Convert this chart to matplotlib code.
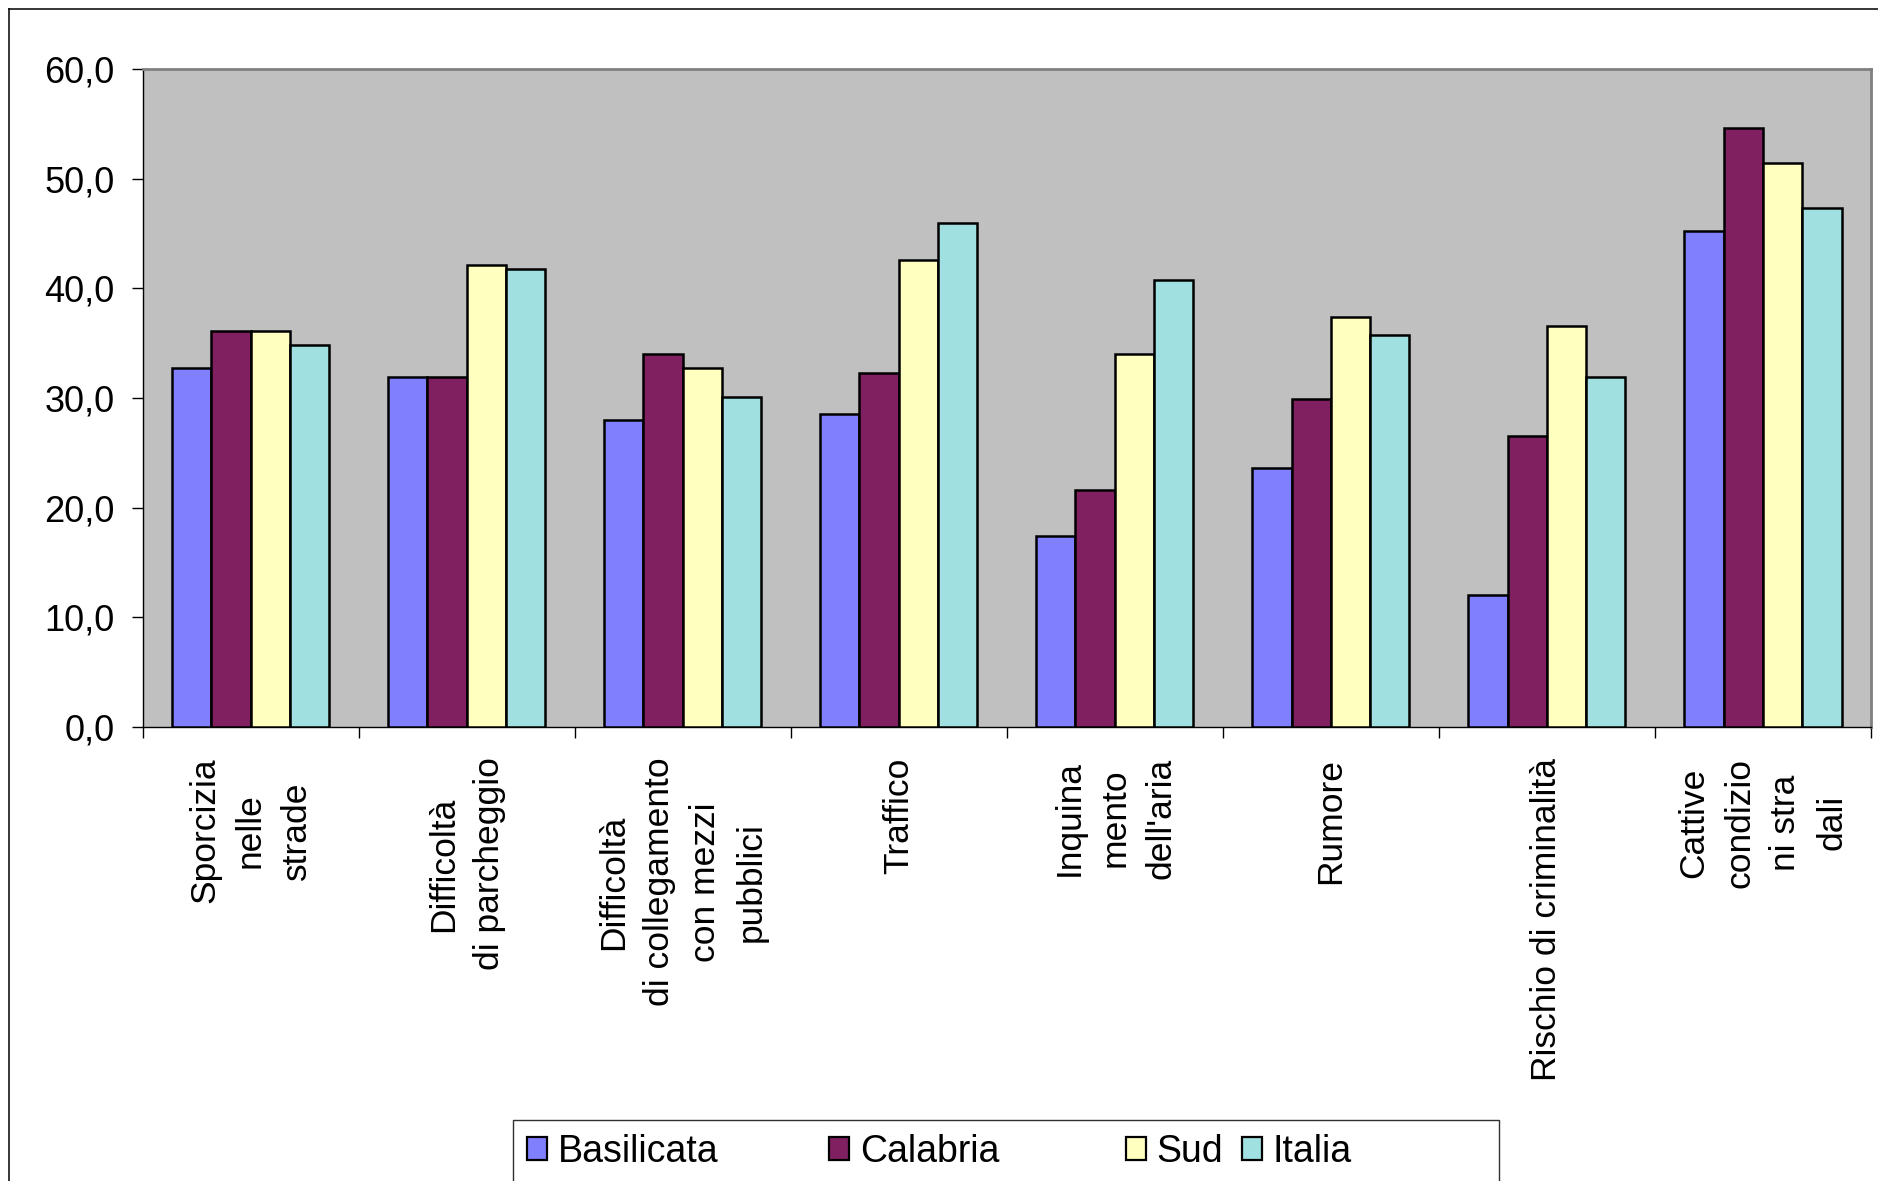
import matplotlib
matplotlib.use("Agg")
import matplotlib.pyplot as plt
from matplotlib.patches import Patch, Rectangle
from matplotlib.lines import Line2D
from matplotlib.ticker import FixedLocator, FuncFormatter
import numpy as np

plt.rcParams['font.family'] = ['Liberation Sans', 'DejaVu Sans']

# Problems reported by households (%)
categories = [
    "Sporcizia\nnelle\nstrade",
    "Difficoltà\ndi parcheggio",
    "Difficoltà\ndi collegamento\ncon mezzi\npubblici",
    "Traffico",
    "Inquina\nmento\ndell'aria",
    "Rumore",
    "Rischio di criminalità",
    "Cattive\ncondizio\nni stra\ndali",
]
basilicata = [32.7, 31.9, 28.0, 28.5, 17.4, 23.6, 12.0, 45.2]
calabria = [36.1, 31.9, 34.0, 32.3, 21.6, 29.9, 26.5, 54.6]
sud = [36.1, 42.1, 32.7, 42.6, 34.0, 37.4, 36.6, 51.4]
italia = [34.8, 41.8, 30.1, 46.0, 40.8, 35.7, 31.9, 47.3]

series_names = ["Basilicata", "Calabria", "Sud", "Italia"]
series_colors = ["#8080FF", "#802060", "#FFFFC0", "#A0E0E0"]
y_ticks = [0, 10, 20, 30, 40, 50, 60]

W, H = 1878, 1181
fig = plt.figure(figsize=(W / 100, H / 100), dpi=100)
ax = fig.add_axes([142.5 / W, 1 - 727 / H, (1871 - 142.5) / W, (727 - 69) / H])
ax.set_facecolor("#C0C0C0")

x = np.arange(len(categories))
bar_w = 1 / 5.5
all_series = [basilicata, calabria, sud, italia]
for i, (vals, col) in enumerate(zip(all_series, series_colors)):
    ax.bar(x + (i - 1.5) * bar_w, vals, width=bar_w, color=col,
           edgecolor="black", linewidth=1.8, zorder=3)

ax.set_xlim(-0.5, len(categories) - 0.5)
ax.set_ylim(0, 60)

# y axis
ax.yaxis.set_major_locator(FixedLocator(y_ticks))
ax.yaxis.set_major_formatter(FuncFormatter(lambda v, p: f"{v:.1f}".replace(".", ",")))
ax.tick_params(axis="y", direction="out", length=8, width=1.0, pad=12,
               labelsize=26, colors="black")

# x axis: ticks at group boundaries, labels at group centres
ax.xaxis.set_major_locator(FixedLocator(np.arange(-0.5, len(categories), 1.0)))
ax.xaxis.set_major_formatter(FuncFormatter(lambda v, p: ""))
ax.xaxis.set_minor_locator(FixedLocator(x))
ax.set_xticklabels(categories, minor=True)
ax.tick_params(axis="x", which="major", direction="out", length=8, width=1.0)
ax.tick_params(axis="x", which="minor", length=0, pad=22, labelsize=25.5)
for lab in ax.get_xticklabels(minor=True):
    lab.set_rotation(90)
    lab.set_va("top")
    lab.set_ha("center")
    lab.set_multialignment("center")
    lab.set_linespacing(1.5)

for side in ("left", "bottom"):
    ax.spines[side].set_color("black")
    ax.spines[side].set_linewidth(1.0)
for side in ("top", "right"):
    ax.spines[side].set_color("#808080")
    ax.spines[side].set_linewidth(2.0)

# outer chart border (top and left edges)
fig.add_artist(Line2D([8.5 / W, 1.0], [1 - 9.3 / H, 1 - 9.3 / H],
                      transform=fig.transFigure, color="black", lw=1.1))
fig.add_artist(Line2D([8.5 / W, 8.5 / W], [1 - 9.3 / H, 0.0],
                      transform=fig.transFigure, color="black", lw=1.1))

# legend frame
fig.add_artist(Rectangle((513 / W, -0.05), (1499 - 513) / W, (1 - 1120 / H) + 0.05,
                         transform=fig.transFigure, facecolor="white",
                         edgecolor="#303030", lw=1.0, zorder=1))

# legend entries, placed individually
entry_x = [527, 829, 1126, 1242]
for name, col, ex in zip(series_names, series_colors, entry_x):
    leg = fig.legend(handles=[Patch(facecolor=col, edgecolor="black", linewidth=1.6)],
                     labels=[name], loc="center left",
                     bbox_to_anchor=(ex / W, 1 - 1152 / H),
                     frameon=False, fontsize=27, borderpad=0, borderaxespad=0,
                     handlelength=0.52, handleheight=0.55, handletextpad=0.3)
    leg.set_zorder(5)

fig.savefig("out.png", dpi=100, facecolor="white")
